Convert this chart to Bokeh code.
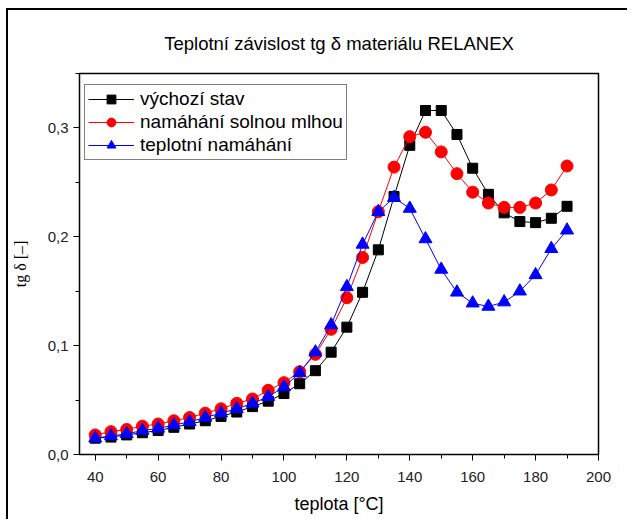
from bokeh.plotting import figure
from bokeh.models import FixedTicker, Legend, LegendItem, Range1d, Title
from bokeh.embed import file_html
from bokeh.resources import INLINE

# data
temps = [40, 45, 50, 55, 60, 65, 70, 75, 80, 85, 90, 95, 100, 105, 110, 115,
         120, 125, 130, 135, 140, 145, 150, 155, 160, 165, 170, 175, 180, 185, 190]
vychozi = [0.015, 0.016, 0.018, 0.020, 0.022, 0.025, 0.028, 0.031, 0.035, 0.039,
           0.044, 0.049, 0.056, 0.065, 0.077, 0.094, 0.117, 0.149, 0.188, 0.237,
           0.284, 0.316, 0.316, 0.294, 0.263, 0.239, 0.222, 0.214, 0.213, 0.217, 0.228]
solna = [0.018, 0.021, 0.023, 0.026, 0.028, 0.031, 0.034, 0.038, 0.042, 0.047,
         0.051, 0.059, 0.066, 0.076, 0.092, 0.115, 0.144, 0.181, 0.223, 0.264,
         0.292, 0.296, 0.278, 0.258, 0.241, 0.231, 0.227, 0.227, 0.231, 0.243, 0.265]
teplotni = [0.015, 0.017, 0.019, 0.022, 0.024, 0.027, 0.030, 0.034, 0.038, 0.042,
            0.047, 0.053, 0.062, 0.075, 0.094, 0.119, 0.154, 0.193, 0.223, 0.236,
            0.226, 0.198, 0.170, 0.149, 0.139, 0.136, 0.140, 0.150, 0.165, 0.189, 0.206]
series_names = ["výchozí stav", "namáhání solnou mlhou", "teplotní namáhání"]
title_text = "Teplotní závislost tg δ materiálu RELANEX"
x_ticks = [40, 60, 80, 100, 120, 140, 160, 180, 200]
x_minor = [50, 70, 90, 110, 130, 150, 170, 190]
y_ticks = [0.0, 0.1, 0.2, 0.3]
y_labels = ["0,0", "0,1", "0,2", "0,3"]
y_minor = [0.05, 0.15, 0.25, 0.35]

FONT = "Liberation Sans"

p = figure(width=621, height=511, output_backend="svg", toolbar_location=None,
           x_range=Range1d(35, 200), y_range=Range1d(0, 0.35),
           min_border_left=71, min_border_right=31, min_border_top=63,
           min_border_bottom=67, title=None)
p.styles = {"margin-left": "6px", "margin-top": "8px",
            "border-left": "2px solid black", "border-top": "2px solid black"}

p.add_layout(Title(text=title_text, align="center",
                   text_font=FONT, text_font_size="18.5px",
                   text_font_style="normal", text_color="black",
                   standoff=40), "above")

p.xgrid.visible = False
p.ygrid.visible = False
p.outline_line_color = "black"
p.outline_line_width = 1.5
p.outline_line_alpha = 1

p.xaxis.ticker = FixedTicker(ticks=x_ticks, minor_ticks=x_minor)
p.yaxis.ticker = FixedTicker(ticks=y_ticks, minor_ticks=y_minor)
p.yaxis.major_label_overrides = {t: l for t, l in zip(y_ticks, y_labels)}
for ax in (p.xaxis[0], p.yaxis[0]):
    ax.major_tick_in = 0
    ax.major_tick_out = 6
    ax.minor_tick_in = 0
    ax.minor_tick_out = 4
    ax.axis_line_color = "black"
    ax.major_tick_line_color = "black"
    ax.minor_tick_line_color = "black"
    ax.major_label_text_font = FONT
    ax.major_label_text_font_size = "15px"
    ax.major_label_text_color = "#222222"
    ax.axis_label_text_font_style = "normal"
    ax.axis_label_text_color = "black"
p.xaxis.axis_label = "teplota [°C]"
p.xaxis.axis_label_text_font = FONT
p.xaxis.axis_label_text_font_size = "18px"
p.yaxis.axis_label = "tg δ [–]"
p.yaxis.axis_label_text_font = "Liberation Serif"
p.yaxis.axis_label_text_font_size = "16px"
p.xaxis.major_label_standoff = 11
p.xaxis.axis_label_standoff = 9
p.yaxis.major_label_standoff = 5
p.yaxis.axis_label_standoff = 16

r1l = p.line(temps, vychozi, line_color="black", line_width=1)
r1m = p.scatter(temps, vychozi, marker="square", size=10, fill_color="black", line_color="black")
r2l = p.line(temps, solna, line_color="red", line_width=1)
r2m = p.scatter(temps, solna, marker="circle", size=12, fill_color="red", line_color="red")
r3l = p.line(temps, teplotni, line_color="blue", line_width=1)
r3m = p.scatter(temps, teplotni, marker="triangle", size=13, fill_color="blue", line_color="blue")

legend = Legend(items=[
    LegendItem(label=series_names[0], renderers=[r1l, r1m]),
    LegendItem(label=series_names[1], renderers=[r2l, r2m]),
    LegendItem(label=series_names[2], renderers=[r3l, r3m]),
], location=(5, 294))
legend.label_text_font = FONT
legend.label_text_font_size = "19px"
legend.label_text_color = "black"
legend.glyph_width = 46
legend.glyph_height = 22
legend.label_height = 22
legend.label_standoff = 6
legend.spacing = 1
legend.padding = 3
legend.margin = 0
legend.border_line_color = "black"
legend.border_line_width = 1
legend.background_fill_alpha = 1
p.add_layout(legend)

open("out.html", "w").write(file_html(p, INLINE))
